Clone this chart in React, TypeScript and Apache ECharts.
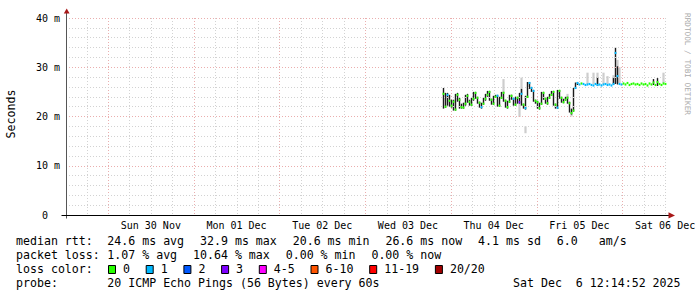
import React, { useEffect, useRef } from "react";
import * as echarts from "echarts";

// Time axis: hours after Sat 29 Nov 2025 00:00
const X_MIN_HOUR = 12.25;
const X_MAX_HOUR = 180.25;
const START_HOUR = 117.95;
const STEP_HOURS = 0.56;

const DAY_LABELS = ["Sun 30 Nov", "Mon 01 Dec", "Tue 02 Dec", "Wed 03 Dec", "Thu 04 Dec", "Fri 05 Dec", "Sat 06 Dec"];
const DAY_LABEL_HOURS = [36, 60, 84, 108, 132, 156, 180];
const MAJOR_GRID_HOURS = [24, 48, 72, 96, 120, 144, 168];
const MINOR_GRID_HOURS = [18, 30, 36, 42, 54, 60, 66, 78, 84, 90, 102, 108, 114, 126, 132, 138, 150, 156, 162, 174, 180];

const Y_TICKS = [0, 10, 20, 30, 40];

// median rtt (ms) per consolidated step
const MEDIAN = [
  24.6, 22.0, 24.4, 23.2, 22.2, 23.0, 21.4, 24.4, 23.4, 21.9,
  21.8, 22.6, 24.2, 23.0, 22.4, 23.6, 24.8, 23.8, 22.8, 21.9,
  22.6, 23.6, 24.4, 25.0, 23.4, 22.6, 24.0, 24.2, 22.2, 23.8,
  24.8, 23.2, 21.9, 23.0, 24.2, 23.6, 22.4, 23.8, 22.9, 24.6,
  22.4, 21.7, 24.0, 26.8, 25.8, 25.2, 23.2, 22.9, 21.7, 22.6,
  24.8, 23.6, 22.7, 23.8, 24.4, 25.0, 22.4, 21.8, 25.2, 23.8,
  22.9, 23.4, 23.8, 22.7, 20.7, 21.2, 25.8, 26.8, 26.5, 26.7,
  26.6, 26.4, 26.5, 26.6, 26.4, 26.3, 26.6, 26.4, 26.5, 26.3,
  26.5, 26.6, 26.4, 26.5, 26.3, 26.6, 32.9, 28.2, 26.6, 26.5,
  26.7, 26.5, 26.8, 26.4, 26.6, 26.7, 26.5, 26.6, 26.4, 26.7,
  26.5, 26.6, 26.3, 26.7, 26.5, 26.9, 26.4, 27.0, 26.6, 26.4,
  26.7, 26.6,
];

// inner (dense) smoke range per step; null = none visible
const DARK_LO: (number | null)[] = [
  21.6, 21.8, 22.2, 22.0, 21.8, 21.2, 21.2, 23.0, 21.6, 21.6,
  21.6, 22.2, 22.8, 22.2, 22.2, 23.2, 23.6, 22.6, 21.8, 21.6,
  22.4, 23.2, 24.0, 23.2, 22.4, 22.4, 23.8, 22.0, 22.0, 23.6,
  23.0, 21.8, 21.6, 22.8, 23.4, 22.2, 22.2, 22.6, 22.6, 22.2,
  21.6, 21.4, 23.8, 25.6, 25.0, 23.0, 22.6, 21.6, 21.4, 22.4,
  23.4, 22.6, 22.4, 23.6, 24.2, 22.2, 21.6, 21.6, 23.6, 22.8,
  22.7, 23.2, 22.6, 20.8, 20.4, 21.0, 25.6, 26.4, null, null,
  null, null, null, null, null, null, null, 26.2, null, null,
  null, null, null, null, null, 26.4, 26.6, 26.5, null, null,
  null, null, null, null, null, null, null, null, null, null,
  null, null, null, null, null, 26.4, null, 26.2, null, null,
  null, null,
];
const DARK_HI: (number | null)[] = [
  25.8, 24.8, 24.8, 24.4, 23.4, 23.4, 24.6, 24.8, 23.8, 22.6,
  22.8, 24.4, 24.6, 23.4, 23.8, 25.0, 25.0, 24.0, 23.0, 22.8,
  23.8, 24.6, 25.2, 25.2, 23.6, 24.2, 24.4, 24.4, 24.0, 25.0,
  25.0, 23.4, 23.2, 24.4, 24.4, 23.8, 24.0, 24.0, 24.8, 25.6,
  22.6, 24.2, 27.0, 27.0, 26.0, 25.4, 23.4, 23.2, 22.8, 25.0,
  25.0, 23.8, 24.0, 24.6, 25.2, 25.2, 22.6, 25.4, 25.4, 24.0,
  23.6, 24.0, 24.0, 23.0, 21.6, 25.8, 26.9, 27.0, null, null,
  null, null, null, null, null, null, null, 28.0, null, null,
  null, null, null, null, null, 27.8, 34.0, 30.2, null, null,
  null, null, null, null, null, null, null, null, null, null,
  null, null, null, null, null, 27.6, null, 27.8, null, null,
  null, null,
];

// packet loss class per step (index into LOSS_COLORS)
const LOSS = [
  0, 0, 1, 0, 0, 0, 0, 0, 0, 0,
  0, 0, 0, 0, 0, 0, 0, 0, 0, 1,
  0, 0, 0, 0, 0, 0, 0, 1, 0, 0,
  0, 0, 0, 0, 0, 1, 0, 0, 3, 1,
  0, 1, 0, 1, 1, 1, 0, 0, 0, 0,
  0, 0, 0, 0, 0, 0, 0, 1, 0, 0,
  0, 0, 0, 0, 0, 0, 1, 1, 1, 0,
  1, 1, 1, 1, 1, 1, 1, 1, 1, 1,
  1, 1, 1, 1, 1, 1, 1, 1, 1, 1,
  0, 0, 0, 0, 0, 0, 0, 0, 0, 0,
  0, 0, 0, 0, 0, 0, 0, 0, 0, 0,
  0, 0,
];

// outer smoke: [step index, low ms, high ms]
const GREY_SMOKE: [number, number, number][] = [
  [30, 24.8, 27.6],
  [38, 19.9, 22.6],
  [39, 24.6, 27.9],
  [41, 16.6, 18.0],
  [62, 23.8, 24.6],
  [64, 20.0, 20.8],
  [72, 26.6, 28.9],
  [75, 26.6, 28.9],
  [77, 26.6, 28.9],
  [80, 26.6, 28.9],
  [82, 26.6, 28.2],
  [85, 26.6, 28.4],
  [87, 26.8, 31.5],
  [88, 26.8, 30.0],
  [110, 26.8, 28.9],
];

const LOSS_LABELS = ["0", "1", "2", "3", "4-5", "6-10", "11-19", "20/20"];
const LOSS_COLORS = ["#26ff00", "#00b8ff", "#0059ff", "#7e00ff", "#ff00ff", "#ff5500", "#ff0000", "#a10000"];

const RTT_ITEMS = ["24.6 ms avg", "32.9 ms max", "20.6 ms min", "26.6 ms now", "4.1 ms sd", "6.0"];
const RTT_UNIT = "am/s";
const LOSS_ITEMS = ["1.07 % avg", "10.64 % max", "0.00 % min", "0.00 % now"];
const PROBE_TEXT = "20 ICMP Echo Pings (56 Bytes) every 60s";
const DATE_TEXT = "Sat Dec  6 12:14:52 2025";

const MONO = '"DejaVu Sans Mono", "Liberation Mono", monospace';
const CHAR_W = 7.0;
const MAJOR_GRID_COLOR = "#eaaeae";
const MINOR_GRID_COLOR = "#d2d2d2";

const stepX = (i: number) => START_HOUR + i * STEP_HOURS;

function buildOption() {
  const medianData = MEDIAN.map((m, i) => [stepX(i), m, LOSS[i]]);
  const darkData: number[][] = [];
  DARK_LO.forEach((lo, i) => {
    const hi = DARK_HI[i];
    if (lo !== null && hi !== null) darkData.push([stepX(i), lo, hi]);
  });
  const greyData = GREY_SMOKE.map(([i, lo, hi]) => [stepX(i), lo, hi]);
  const gridData = [
    ...MINOR_GRID_HOURS.map((h) => [h, 0]),
    ...MAJOR_GRID_HOURS.map((h) => [h, 1]),
  ];
  const labelData = DAY_LABEL_HOURS.map((h, i) => [h, i]);

  const rangeRender = (fill: string, frac: number) => (params: any, api: any) => {
    const t = api.value(0);
    const a = api.coord([t, api.value(2)]);
    const b = api.coord([t, api.value(1)]);
    const w = api.size([STEP_HOURS, 0])[0] * frac;
    return {
      type: "rect",
      shape: { x: a[0] - w / 2, y: a[1], width: w, height: Math.max(1, b[1] - a[1]) },
      style: { fill },
    };
  };

  const graphic: any[] = [];
  const txt = (x: number, y: number, text: string, extra: any = {}) =>
    graphic.push({
      type: "text",
      x,
      y,
      silent: true,
      style: { text, font: `11.6px ${MONO}`, fill: "#000", align: "left", verticalAlign: "middle", ...extra },
    });

  // rows
  const rowY = [241, 255, 269, 283];
  txt(16, rowY[0], "median rtt:");
  let x = 107.3;
  RTT_ITEMS.forEach((s) => {
    txt(x, rowY[0], s);
    x += s.length * CHAR_W + 15.7;
  });
  txt(x - 15.7 + 3 * CHAR_W, rowY[0], RTT_UNIT);

  txt(16, rowY[1], "packet loss:");
  x = 107.3;
  LOSS_ITEMS.forEach((s) => {
    txt(x, rowY[1], s);
    x += s.length * CHAR_W + 15.7;
  });

  txt(16, rowY[2], "loss color:");
  x = 108;
  LOSS_LABELS.forEach((s, i) => {
    graphic.push({
      type: "rect",
      silent: true,
      shape: { x: x + 0.5, y: 265.5, width: 7, height: 8 },
      style: { fill: LOSS_COLORS[i], stroke: "#000", lineWidth: 1 },
    });
    txt(x + 15, rowY[2], s);
    x = x + 15 + s.length * CHAR_W + 15.7;
  });

  txt(16, rowY[3], "probe:");
  txt(107.3, rowY[3], PROBE_TEXT);
  txt(513, rowY[3], DATE_TEXT);

  // vertical title + watermark
  graphic.push({
    type: "text",
    x: 11,
    y: 114,
    rotation: Math.PI / 2,
    silent: true,
    style: { text: "Seconds", font: `11.6px ${MONO}`, fill: "#000", align: "center", verticalAlign: "middle" },
  });
  graphic.push({
    type: "text",
    x: 687.5,
    y: 64,
    rotation: -Math.PI / 2,
    silent: true,
    style: { text: "RRDTOOL / TOBI OETIKER", font: `7.7px ${MONO}`, fill: "#aaaaaa", align: "center", verticalAlign: "middle" },
  });

  // axis overhangs & arrows
  graphic.push({ type: "line", silent: true, shape: { x1: 61.5, y1: 215.5, x2: 66, y2: 215.5 }, style: { stroke: "#000", lineWidth: 1 } });
  graphic.push({ type: "line", silent: true, shape: { x1: 666, y1: 215.5, x2: 669, y2: 215.5 }, style: { stroke: "#000", lineWidth: 1 } });
  graphic.push({ type: "line", silent: true, shape: { x1: 66.5, y1: 215, x2: 66.5, y2: 218.5 }, style: { stroke: "#555", lineWidth: 1 } });
  graphic.push({ type: "line", silent: true, shape: { x1: 66.5, y1: 18, x2: 66.5, y2: 13 }, style: { stroke: "#555", lineWidth: 1 } });
  graphic.push({ type: "polygon", silent: true, shape: { points: [[63.8, 13.5], [69.6, 13.5], [66.7, 8.5]] }, style: { fill: "#a81818" } });
  graphic.push({ type: "polygon", silent: true, shape: { points: [[668.5, 212.2], [668.5, 218.6], [675, 215.4]] }, style: { fill: "#a81818" } });

  return {
    animation: false,
    backgroundColor: "#ffffff",
    grid: { left: 66, top: 18, width: 600, height: 197, containLabel: false },
    xAxis: {
      type: "value",
      min: X_MIN_HOUR,
      max: X_MAX_HOUR,
      z: 5,
      axisLine: { show: true, onZero: false, lineStyle: { color: "#000", width: 1 } },
      axisTick: { show: false },
      axisLabel: { show: false },
      splitLine: { show: false },
    },
    yAxis: {
      type: "value",
      min: Y_TICKS[0],
      max: Y_TICKS[Y_TICKS.length - 1],
      interval: 10,
      z: 5,
      axisLine: { show: true, lineStyle: { color: "#555", width: 1 } },
      axisTick: { show: false },
      axisLabel: {
        margin: 6,
        fontFamily: MONO,
        fontSize: 10,
        color: "#000",
        formatter: (v: number) => (v === 0 ? "{z|0}" : `${v} m`),
        rich: { z: { fontFamily: MONO, fontSize: 10, color: "#000", padding: [0, 12, 0, 0] } },
      },
      splitLine: { show: true, lineStyle: { color: MAJOR_GRID_COLOR, width: 1, type: [1, 2] } },
      minorTick: { show: false, splitNumber: 5 },
      minorSplitLine: { show: true, lineStyle: { color: MINOR_GRID_COLOR, width: 1, type: [1, 2] } },
    },
    series: [
      {
        type: "custom",
        name: "xgrid",
        z: 1,
        silent: true,
        data: gridData,
        encode: { x: 0, y: 1 },
        renderItem: (params: any, api: any) => {
          const h = api.value(0);
          const major = api.value(1) === 1;
          const top = api.coord([h, Y_TICKS[Y_TICKS.length - 1]]);
          const bot = api.coord([h, Y_TICKS[0]]);
          const px = Math.round(top[0]) + 0.5;
          return {
            type: "line",
            shape: { x1: px, y1: bot[1] - 1, x2: px, y2: top[1] },
            style: { stroke: major ? MAJOR_GRID_COLOR : MINOR_GRID_COLOR, lineWidth: 1, lineDash: [1, 2] },
          };
        },
      },
      {
        type: "custom",
        name: "smoke",
        z: 3,
        silent: true,
        data: greyData,
        encode: { x: 0, y: [1, 2] },
        renderItem: rangeRender("#cdcdcd", 1.1),
      },
      {
        type: "custom",
        name: "inner smoke",
        z: 4,
        silent: true,
        data: darkData,
        encode: { x: 0, y: [1, 2] },
        renderItem: rangeRender("#1c1c1c", 0.7),
      },
      {
        type: "custom",
        name: "median",
        z: 6,
        silent: true,
        data: medianData,
        encode: { x: 0, y: 1 },
        renderItem: (params: any, api: any) => {
          const p = api.coord([api.value(0), api.value(1)]);
          const w = api.size([STEP_HOURS, 0])[0] * 0.9;
          const c = LOSS_COLORS[api.value(2)] || LOSS_COLORS[0];
          return {
            type: "rect",
            shape: { x: p[0] - w / 2, y: p[1] - 1.1, width: w, height: 2.2 },
            style: { fill: c },
          };
        },
      },
      {
        type: "custom",
        name: "xlabels",
        z: 6,
        silent: true,
        data: labelData,
        encode: { x: 0, y: 1 },
        renderItem: (params: any, api: any) => {
          const p = api.coord([api.value(0), Y_TICKS[0]]);
          return {
            type: "text",
            x: p[0],
            y: p[1] + 10,
            style: {
              text: DAY_LABELS[api.value(1)],
              font: `10px ${MONO}`,
              fill: "#000",
              align: "center",
              verticalAlign: "middle",
            },
          };
        },
      },
    ],
    graphic,
  };
}

export default function App() {
  const ref = useRef<HTMLDivElement>(null);
  useEffect(() => {
    if (!ref.current) return;
    const chart = echarts.init(ref.current, undefined, { renderer: "svg", width: 697, height: 297 });
    chart.setOption(buildOption() as any);
    return () => chart.dispose();
  }, []);
  return (
    <div
      ref={ref}
      style={{ position: "fixed", left: 0, top: 0, width: 697, height: 297, background: "#fff" }}
    />
  );
}
